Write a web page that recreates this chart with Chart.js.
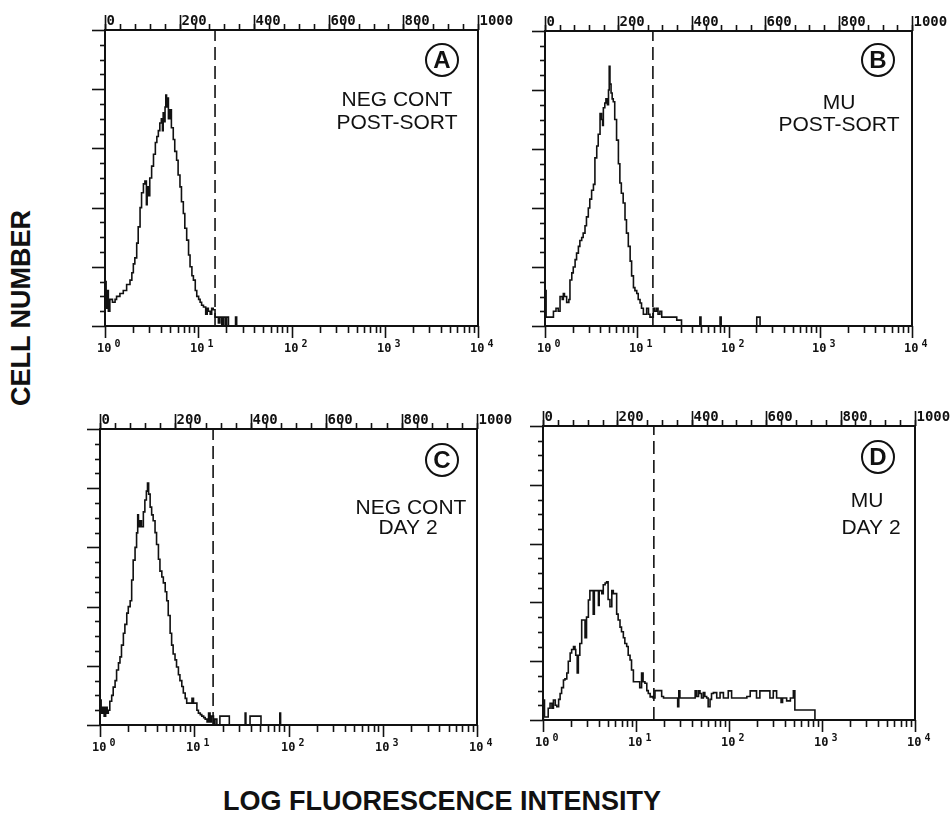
<!DOCTYPE html>
<html><head><meta charset="utf-8">
<script src="https://cdn.jsdelivr.net/npm/chart.js@4.4.1/dist/chart.umd.min.js"></script>
<style>
html,body{margin:0;padding:0;background:#fff;}
body{width:951px;height:831px;overflow:hidden;position:relative;}
canvas{position:absolute;}
.lbl{position:absolute;font-family:"Liberation Sans",Arial,sans-serif;font-weight:bold;color:#111;white-space:nowrap;}
</style></head>
<body>
<canvas id="cA"></canvas>
<canvas id="cB"></canvas>
<canvas id="cC"></canvas>
<canvas id="cD"></canvas>
<div class="lbl" id="ylab" style="left:21px;top:308px;font-size:27px;transform:translate(-50%,-50%) rotate(-90deg);">CELL NUMBER</div>
<div class="lbl" id="xlab" style="left:442px;top:801px;font-size:27px;transform:translate(-50%,-50%);">LOG FLUORESCENCE INTENSITY</div>
<script>
// ---------- data ----------
const panelLetters = ['A', 'B', 'C', 'D'];
const panelLines = [['NEG CONT', 'POST-SORT'], ['MU', 'POST-SORT'], ['NEG CONT', 'DAY 2'], ['MU', 'DAY 2']];
const topTickValues = [0, 200, 400, 600, 800, 1000];
const topTickLabels = ['0', '200', '400', '600', '800', '1000'];
const decadeValues = [1, 10, 100, 1000, 10000];
const decadeBase = '10';
const decadeExponents = ['0', '1', '2', '3', '4'];
const gateChannel = [295, 294, 300, 298];

const chanA = [0,3,6,9,13,20,27,31,40,49,58,67,72,76,80,85,89,94,98,103,107,111,113,116,120,125,130,135,139,143,147,151,154,156,159,161,163,165,167,170,174,178,183,187,192,196,201,205,210,214,219,224,228,233,237,242,246,251,255,259,264,270,274,277,282,286,290,295,299,304,308,313,317,322,326,331,350,353,1000];
const countA = [15,6,12,5,9,8,9,10,11,12,14,15.5,18,21,23,28,33.5,40,45,48,49,41,47,44,50,54,58,62,64,66,68.6,70,66,72,69,74,78,74,77,70,73,67,63,59,56,51,47,42,38,33,29,24,20,17,15.5,12,10,9,8,7,6.4,4,6,5,4,6,5.5,3,3,1,3,0,3,0,3,0,3,0,0];

const chanB = [0,3,18,23,30,36,41,47,50,53,59,65,68,73,77,82,86,91,95,100,104,109,113,118,122,127,132,136,141,145,150,154,157,159,163,166,170,173,175,177,180,183,186,190,195,200,204,208,213,218,222,227,232,236,241,245,250,254,259,263,268,272,277,282,286,290,295,299,304,308,313,318,322,350,359,368,372,422,425,477,480,577,586,1000];
const countB = [12,3,3,5,6,5,10,9,11,10,8,9,15.6,18,20,22.5,24.7,27,29,30,31.5,34,37,40,43,46,48,57,61,65,72,70,68,74,75.6,77,75,80,88,82,79,77,76,70,63,55,48.5,45,41.7,36,31.5,27,22,17,13,12,11,9,7.8,6,4,4,6,4,3,3,6,5,6,4,5,3,3,3,2,2,0,3,0,3,0,3,0,0];

const chanC = [0,3,7,11,15,19,22,26,31,35,40,44,49,53,57,62,66,71,75,80,84,88,93,97,100,102,106,110,115,119,123,126,129,133,137,141,146,150,155,159,164,168,173,177,181,186,190,194,199,203,208,212,217,221,226,230,239,244,248,253,257,261,266,270,275,279,284,288,292,296,301,305,310,318,340,343,385,387,398,424,427,477,479,1000];
const countC = [8.4,4,6,3,6,4,5,8,10,12.8,15,18.6,21,23,27,31,34,37.8,40,42,49,55.7,60,64.9,71,67,69,67,72,76,79,81.7,78,73.6,71,69,65,61,56,52,50,48,45,42,37,31,27,24,22,19.6,17,15,13,10.8,9,7.4,7.4,9,7.4,7.4,5,4,3.5,3,2.5,2,1,4,1,3,0,2,0,3,3,0,4,0,3,3,0,4,0,0];

const chanD = [0,1,4,10,14,19,24,28,33,37,42,46,50,55,59,64,68,73,77,82,86,88,92,95,99,104,108,113,117,122,126,131,135,138,144,149,151,158,162,167,171,175,180,185,189,194,198,202,207,211,216,220,225,229,234,238,243,247,252,256,260,265,269,274,279,283,288,292,296,301,305,310,315,319,324,359,362,365,368,404,409,413,418,422,426,431,435,440,444,449,453,458,467,476,485,494,498,507,512,530,548,557,566,574,583,601,610,619,628,640,644,655,665,673,677,727,731,1000];
const countD = [0,6.8,1,1,4,5.7,4,6.8,5,4.5,7,9,11,13.6,14,16,20,22.8,24,25,24,22,16,22,26,34,34,28,35,40.8,44,44,36,44,44,39,44,43,46,46.6,47,41,38.5,44,43,43,36,34,31.6,30,28,26,25,22,20.4,17,13,13,13,13,11,16,13,12.5,10,9,7.8,8,7.5,10,10,10,10,8,7.5,7.5,4.5,9.9,7.5,7.5,9.9,8,9.9,9,7.5,9.3,8,7.5,4.5,7,9,9.3,7.5,9.3,7.5,7.5,9.9,7.5,7.5,7.5,8,9.9,9.9,7.5,9.9,9.9,7.5,9.9,7.5,6,7.5,6.5,7.5,9.9,3.4,3.4,0,0];

const panelChannels = [chanA, chanB, chanC, chanD];
const panelCounts = [countA, countB, countC, countD];

// ---------- layout (page pixels) ----------
const panelRects = [
  {l:105, t:30, r:478, b:326},
  {l:545, t:31, r:912, b:326},
  {l:100, t:429, r:477, b:725},
  {l:543, t:426, r:915, b:720}
];
const annot = [
  {cx:36, cy:30, lines:[[81,70],[81,93]]},
  {cx:34, cy:29, lines:[[73,72],[73,94]]},
  {cx:35, cy:31, lines:[[66,79],[69,99]]},
  {cx:37, cy:31, lines:[[48,75],[44,102]]}
];
const PADL = 60, PADT = 30, PADR = 50, PADB = 50;
const INK = '#111';

const flowAxes = {
  id: 'flowAxes',
  afterDatasetsDraw(chart, args, opts) {
    const {ctx, chartArea: a, scales} = chart;
    const xt = scales.xTop, xl = scales.x, y = scales.y;
    const i = opts.index;
    ctx.save();
    ctx.strokeStyle = INK; ctx.fillStyle = INK;
    const seg = (x1, y1, x2, y2) => { ctx.beginPath(); ctx.moveTo(x1, y1); ctx.lineTo(x2, y2); ctx.stroke(); };
    ctx.lineWidth = 2;
    ctx.strokeRect(a.left, a.top, a.right - a.left, a.bottom - a.top);
    ctx.lineWidth = 1.6;
    for (let v = 0; v <= 100; v += 5) {
      const py = Math.round(y.getPixelForValue(v)) + 0.5;
      const len = (v % 20 === 0) ? 13 : 5;
      seg(a.left - len, py, a.left + 1, py);
    }
    for (let v = 0; v <= 1000; v += 40) {
      const px = Math.round(xt.getPixelForValue(v)) + 0.5;
      seg(px, a.top, px, a.top - 6);
    }
    ctx.font = 'bold 14px "DejaVu Sans Mono", monospace';
    ctx.textAlign = 'left'; ctx.textBaseline = 'alphabetic';
    topTickValues.forEach((v, k) => {
      const px = Math.round(xt.getPixelForValue(v)) + 0.5;
      seg(px, a.top, px, a.top - 15);
      ctx.fillText(topTickLabels[k], px + 1, a.top - 5);
    });
    for (let d = 1; d < 10000; d *= 10) {
      for (let m = 2; m <= 9; m++) {
        const px = Math.round(xl.getPixelForValue(d * m)) + 0.5;
        seg(px, a.bottom, px, a.bottom + 7);
      }
    }
    decadeValues.forEach((v, k) => {
      const px = Math.round(xl.getPixelForValue(v)) + 0.5;
      seg(px, a.bottom, px, a.bottom + 12);
      ctx.font = 'bold 12px "DejaVu Sans Mono", monospace';
      ctx.textAlign = 'right'; ctx.textBaseline = 'alphabetic';
      ctx.fillText(decadeBase, px + 6, a.bottom + 26);
      ctx.font = 'bold 10px "DejaVu Sans Mono", monospace';
      ctx.textAlign = 'left';
      ctx.fillText(decadeExponents[k], px + 9, a.bottom + 21);
    });
    const an = annot[i];
    const cx = a.right - an.cx, cy = a.top + an.cy;
    ctx.lineWidth = 2;
    ctx.beginPath(); ctx.arc(cx, cy, 16, 0, Math.PI * 2); ctx.stroke();
    ctx.textAlign = 'center'; ctx.textBaseline = 'middle';
    ctx.font = 'bold 24px "Liberation Sans", Arial, sans-serif';
    ctx.fillText(panelLetters[i], cx, cy + 1);
    ctx.font = '21px "Liberation Sans", Arial, sans-serif';
    panelLines[i].forEach((t, k) => {
      ctx.fillText(t, a.right - an.lines[k][0], a.top + an.lines[k][1]);
    });
    ctx.restore();
  }
};

panelRects.forEach((p, i) => {
  const cv = document.getElementById('c' + panelLetters[i]);
  const w = (p.r - p.l) + PADL + PADR, h = (p.b - p.t) + PADT + PADB;
  cv.width = w; cv.height = h;
  cv.style.width = w + 'px'; cv.style.height = h + 'px';
  cv.style.left = (p.l - PADL) + 'px'; cv.style.top = (p.t - PADT) + 'px';
  const hist = panelChannels[i].map((c, k) => ({x: c, y: panelCounts[i][k]}));
  const gate = [{x: gateChannel[i], y: 0}, {x: gateChannel[i], y: 100}];
  new Chart(cv, {
    type: 'line',
    data: {
      datasets: [
        {data: hist, xAxisID: 'xTop', yAxisID: 'y', stepped: true, borderColor: INK, borderWidth: 1.6, pointRadius: 0, fill: false},
        {data: gate, xAxisID: 'xTop', yAxisID: 'y', borderColor: INK, borderWidth: 1.6, borderDash: [13, 6], pointRadius: 0, fill: false}
      ]
    },
    options: {
      responsive: false, animation: false, devicePixelRatio: 1,
      layout: {padding: {left: PADL, top: PADT, right: PADR, bottom: PADB}},
      plugins: {legend: {display: false}, tooltip: {enabled: false}, flowAxes: {index: i}},
      scales: {
        xTop: {type: 'linear', position: 'top', min: 0, max: 1000, display: false},
        x: {type: 'logarithmic', position: 'bottom', min: 1, max: 10000, display: false},
        y: {type: 'linear', min: 0, max: 100, display: false}
      }
    },
    plugins: [flowAxes]
  });
});
</script>
</body></html>
